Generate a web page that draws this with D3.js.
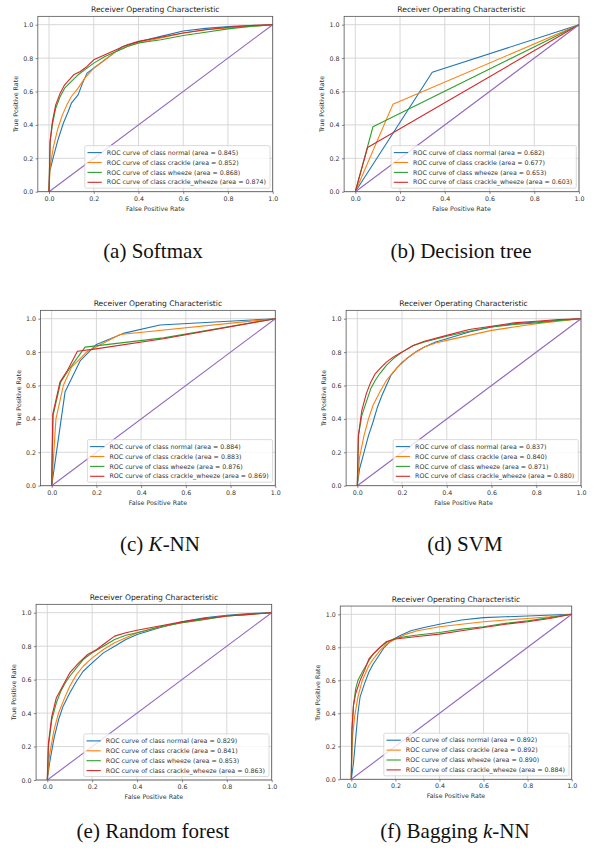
<!DOCTYPE html>
<html>
<head>
<meta charset="utf-8">
<script src="https://cdn.jsdelivr.net/npm/d3@7"></script>
<style>
  body { margin: 0; background: #fff; }
  svg { display: block; }
</style>
</head>
<body>
<div id="fig"></div>
<script>
// ROC curves for six classifiers
const classNames = ["normal", "crackle", "wheeze", "crackle_wheeze"];
const axisTicks = [0, 0.2, 0.4, 0.6, 0.8, 1.0];

// each curve is a list of [fpr, tpr]
const softmaxCurves = [
  [[0,0],[0.003,0.12],[0.02,0.21],[0.04,0.31],[0.064,0.41],[0.086,0.48],[0.1,0.53],[0.13,0.58],[0.15,0.65],[0.17,0.71],[0.21,0.75],[0.26,0.8],[0.33,0.87],[0.41,0.9],[0.5,0.93],[0.6,0.962],[0.7,0.978],[0.82,0.99],[1,1]],
  [[0,0],[0.005,0.15],[0.02,0.27],[0.04,0.38],[0.06,0.46],[0.08,0.52],[0.1,0.57],[0.13,0.62],[0.16,0.68],[0.2,0.74],[0.25,0.79],[0.3,0.84],[0.35,0.87],[0.4,0.89],[0.5,0.92],[0.6,0.95],[0.7,0.97],[0.8,0.98],[0.9,0.99],[1,1]],
  [[0,0],[0.005,0.3],[0.015,0.4],[0.03,0.5],[0.05,0.57],[0.07,0.62],[0.1,0.66],[0.13,0.7],[0.17,0.74],[0.2,0.77],[0.25,0.81],[0.3,0.84],[0.35,0.87],[0.4,0.89],[0.5,0.91],[0.6,0.935],[0.7,0.955],[0.8,0.975],[0.9,0.99],[1,1]],
  [[0,0],[0.005,0.3],[0.015,0.42],[0.03,0.52],[0.05,0.59],[0.07,0.64],[0.09,0.67],[0.11,0.7],[0.14,0.72],[0.17,0.75],[0.2,0.79],[0.25,0.82],[0.3,0.85],[0.35,0.88],[0.4,0.9],[0.5,0.925],[0.6,0.95],[0.7,0.97],[0.8,0.985],[0.9,0.995],[1,1]]
];
const softmaxAuc = [0.845, 0.852, 0.868, 0.874];

const treeCurves = [
  [[0,0],[0.344,0.715],[1,1]],
  [[0,0],[0.168,0.523],[1,1]],
  [[0,0],[0.079,0.389],[1,1]],
  [[0,0],[0.055,0.265],[1,1]]
];
const treeAuc = [0.682, 0.677, 0.653, 0.603];

const knnCurves = [
  [[0,0],[0.06,0.563],[0.127,0.747],[0.2,0.846],[0.32,0.912],[0.484,0.962],[1,1]],
  [[0,0],[0.019,0.4],[0.052,0.6],[0.089,0.71],[0.156,0.8],[0.305,0.905],[1,1]],
  [[0,0],[0.006,0.42],[0.04,0.62],[0.074,0.69],[0.149,0.83],[0.5,0.885],[1,1]],
  [[0,0],[0.005,0.43],[0.037,0.62],[0.07,0.69],[0.115,0.805],[0.19,0.818],[0.5,0.88],[1,1]]
];
const knnAuc = [0.884, 0.883, 0.876, 0.869];

const svmCurves = [
  [[0,0],[0.01,0.1],[0.03,0.2],[0.05,0.3],[0.07,0.38],[0.09,0.47],[0.11,0.54],[0.13,0.6],[0.15,0.66],[0.18,0.71],[0.22,0.76],[0.26,0.8],[0.3,0.83],[0.35,0.86],[0.4,0.88],[0.5,0.92],[0.6,0.95],[0.7,0.97],[0.8,0.98],[0.9,0.99],[1,1]],
  [[0,0],[0.01,0.17],[0.03,0.3],[0.05,0.4],[0.07,0.48],[0.1,0.56],[0.13,0.63],[0.16,0.68],[0.2,0.74],[0.25,0.79],[0.3,0.83],[0.35,0.855],[0.4,0.87],[0.5,0.9],[0.6,0.93],[0.7,0.95],[0.8,0.97],[0.9,0.985],[1,1]],
  [[0,0],[0.005,0.3],[0.02,0.42],[0.04,0.5],[0.06,0.58],[0.08,0.63],[0.1,0.67],[0.13,0.72],[0.16,0.76],[0.2,0.8],[0.25,0.84],[0.3,0.86],[0.4,0.895],[0.5,0.925],[0.6,0.95],[0.7,0.965],[0.8,0.975],[0.9,0.99],[1,1]],
  [[0,0],[0.005,0.3],[0.02,0.45],[0.04,0.55],[0.06,0.62],[0.08,0.67],[0.1,0.7],[0.13,0.74],[0.16,0.77],[0.2,0.8],[0.25,0.84],[0.3,0.865],[0.4,0.9],[0.5,0.935],[0.6,0.955],[0.7,0.975],[0.8,0.985],[0.9,0.995],[1,1]]
];
const svmAuc = [0.837, 0.840, 0.871, 0.880];

const forestCurves = [
  [[0,0],[0.01,0.1],[0.03,0.25],[0.05,0.36],[0.07,0.44],[0.1,0.52],[0.13,0.59],[0.16,0.65],[0.2,0.7],[0.25,0.76],[0.3,0.8],[0.35,0.84],[0.4,0.87],[0.5,0.91],[0.6,0.945],[0.7,0.97],[0.8,0.985],[0.9,0.995],[1,1]],
  [[0,0],[0.01,0.15],[0.03,0.3],[0.05,0.4],[0.08,0.5],[0.1,0.56],[0.13,0.63],[0.16,0.68],[0.2,0.73],[0.25,0.78],[0.3,0.82],[0.35,0.85],[0.4,0.88],[0.5,0.915],[0.6,0.94],[0.7,0.96],[0.8,0.98],[0.9,0.99],[1,1]],
  [[0,0],[0.005,0.2],[0.02,0.36],[0.04,0.46],[0.06,0.53],[0.08,0.58],[0.1,0.62],[0.13,0.67],[0.16,0.72],[0.2,0.76],[0.25,0.8],[0.3,0.84],[0.35,0.865],[0.4,0.88],[0.5,0.915],[0.6,0.94],[0.7,0.96],[0.8,0.98],[0.9,0.99],[1,1]],
  [[0,0],[0.005,0.22],[0.02,0.38],[0.04,0.49],[0.06,0.54],[0.08,0.59],[0.1,0.64],[0.14,0.7],[0.18,0.75],[0.22,0.78],[0.26,0.82],[0.3,0.86],[0.35,0.88],[0.4,0.895],[0.5,0.92],[0.6,0.945],[0.7,0.965],[0.8,0.98],[0.9,0.99],[1,1]]
];
const forestAuc = [0.829, 0.841, 0.853, 0.863];

const baggingCurves = [
  [[0,0],[0.01,0.1],[0.02,0.25],[0.03,0.4],[0.04,0.5],[0.06,0.58],[0.08,0.65],[0.1,0.7],[0.12,0.74],[0.15,0.8],[0.18,0.84],[0.22,0.87],[0.27,0.9],[0.33,0.92],[0.4,0.94],[0.5,0.965],[0.6,0.98],[0.7,0.985],[0.8,0.99],[1,1]],
  [[0,0],[0.005,0.25],[0.015,0.38],[0.03,0.5],[0.05,0.6],[0.08,0.69],[0.1,0.73],[0.13,0.78],[0.16,0.82],[0.2,0.85],[0.25,0.88],[0.3,0.9],[0.4,0.925],[0.5,0.94],[0.6,0.955],[0.7,0.965],[0.8,0.975],[0.9,0.985],[1,1]],
  [[0,0],[0.003,0.3],[0.01,0.45],[0.02,0.55],[0.03,0.6],[0.05,0.65],[0.08,0.72],[0.1,0.76],[0.13,0.8],[0.16,0.83],[0.2,0.855],[0.25,0.865],[0.3,0.875],[0.4,0.89],[0.5,0.91],[0.6,0.925],[0.7,0.945],[0.8,0.96],[0.9,0.98],[1,1]],
  [[0,0],[0.003,0.3],[0.01,0.45],[0.02,0.52],[0.04,0.6],[0.06,0.66],[0.08,0.73],[0.1,0.76],[0.13,0.8],[0.16,0.835],[0.2,0.85],[0.3,0.865],[0.4,0.88],[0.5,0.9],[0.6,0.92],[0.7,0.94],[0.8,0.955],[0.9,0.975],[1,1]]
];
const baggingAuc = [0.892, 0.892, 0.890, 0.884];

// matplotlib default colour cycle, purple is the chance line
const lineColours = ["#1f77b4", "#ff7f0e", "#2ca02c", "#d62728"];
const chanceColour = "#9467bd";

const width = 596, height = 852;
const tickFont = 6.3;

const svg = d3.select("#fig").append("svg")
  .attr("width", width)
  .attr("height", height);

// pixel spots of each sub figure (where x=0..1 and y=0..1 land)
const panels = [
  { curves: softmaxCurves, auc: softmaxAuc, xr: [49, 272.7], yr: [191.7, 24.7], cap: ["(a) ", "Softmax"], capItalic: [], capPos: [153, 258] },
  { curves: treeCurves, auc: treeAuc, xr: [355.3, 579], yr: [191.7, 24.7], cap: ["(b) ", "Decision tree"], capItalic: [], capPos: [461, 258] },
  { curves: knnCurves, auc: knnAuc, xr: [51.7, 275.3], yr: [485.7, 318.7], cap: ["(c) ", "K", "-NN"], capItalic: [1], capPos: [160, 551] },
  { curves: svmCurves, auc: svmAuc, xr: [357.3, 581], yr: [485.7, 318.7], cap: ["(d) ", "SVM"], capItalic: [], capPos: [465, 551] },
  { curves: forestCurves, auc: forestAuc, xr: [47.3, 271.7], yr: [780, 612.7], cap: ["(e) ", "Random forest"], capItalic: [], capPos: [153, 838] },
  { curves: baggingCurves, auc: baggingAuc, xr: [351.3, 571.7], yr: [779.3, 614.3], cap: ["(f) Bagging ", "k", "-NN"], capItalic: [1], capPos: [455, 838] }
];

function drawPanel(p) {
  const x = d3.scaleLinear().domain([0, 1]).range(p.xr);
  const y = d3.scaleLinear().domain([0, 1]).range(p.yr);
  const left = x(-0.05), right = x(1), top = y(1.05), bottom = y(0);
  const g = svg.append("g").attr("class", "panel");

  // grid
  g.append("g").selectAll("line.vgrid")
    .data(axisTicks).enter().append("line")
    .attr("x1", d => x(d)).attr("x2", d => x(d))
    .attr("y1", top).attr("y2", bottom)
    .attr("stroke", "#d4d4d4").attr("stroke-width", 0.9);
  g.append("g").selectAll("line.hgrid")
    .data(axisTicks).enter().append("line")
    .attr("x1", left).attr("x2", right)
    .attr("y1", d => y(d)).attr("y2", d => y(d))
    .attr("stroke", "#d4d4d4").attr("stroke-width", 0.9);

  // axes
  const xAxis = g.append("g")
    .attr("transform", `translate(0,${bottom})`)
    .call(d3.axisBottom(x).tickValues(axisTicks).tickFormat(d3.format(".1f")).tickSize(2.2).tickPadding(2.3));
  const yAxis = g.append("g")
    .attr("transform", `translate(${left},0)`)
    .call(d3.axisLeft(y).tickValues(axisTicks).tickFormat(d3.format(".1f")).tickSize(2.2).tickPadding(2.3));
  [xAxis, yAxis].forEach(a => {
    a.select(".domain").remove();
    a.selectAll("line").attr("stroke", "#555").attr("stroke-width", 0.7);
    a.selectAll("text")
      .attr("font-family", "DejaVu Sans")
      .attr("font-size", tickFont)
      .attr("fill", "#333");
  });

  // curves
  const line = d3.line().x(d => x(d[0])).y(d => y(d[1]));
  g.append("g").selectAll("path")
    .data(p.curves).enter().append("path")
    .attr("d", line)
    .attr("fill", "none")
    .attr("stroke", (d, i) => lineColours[i])
    .attr("stroke-width", 1.1)
    .attr("stroke-linejoin", "round");

  g.append("path")
    .attr("d", line([[0, 0], [1, 1]]))
    .attr("fill", "none")
    .attr("stroke", chanceColour)
    .attr("stroke-width", 1.1);

  // frame
  g.append("rect")
    .attr("x", left).attr("y", top)
    .attr("width", right - left).attr("height", bottom - top)
    .attr("fill", "none")
    .attr("stroke", "#555")
    .attr("stroke-width", 0.8);

  // titles
  const midX = (left + right) / 2;
  g.append("text")
    .attr("x", midX).attr("y", top - 4.2)
    .attr("text-anchor", "middle")
    .attr("font-family", "DejaVu Sans")
    .attr("font-size", 7.6)
    .attr("fill", "#222")
    .text("Receiver Operating Characteristic");
  g.append("text")
    .attr("x", midX).attr("y", bottom + 19)
    .attr("text-anchor", "middle")
    .attr("font-family", "DejaVu Sans")
    .attr("font-size", tickFont)
    .attr("fill", "#333")
    .text("False Positive Rate");
  g.append("text")
    .attr("transform", `translate(${left - 20},${(top + bottom) / 2}) rotate(-90)`)
    .attr("text-anchor", "middle")
    .attr("font-family", "DejaVu Sans")
    .attr("font-size", tickFont)
    .attr("fill", "#333")
    .text("True Positive Rate");

  // legend, lower right
  const leg = g.append("g");
  const box = leg.append("rect");
  const rows = leg.selectAll("g.row")
    .data(classNames).enter().append("g")
    .attr("class", "row");
  const labels = rows.append("text")
    .attr("x", 22)
    .attr("y", (d, i) => 7 + i * 9.9)
    .attr("dy", "0.35em")
    .attr("font-family", "DejaVu Sans")
    .attr("font-size", tickFont)
    .attr("fill", "#333")
    .text((d, i) => `ROC curve of class ${d} (area = ${p.auc[i].toFixed(3)})`);
  rows.append("line")
    .attr("x1", 2.7).attr("x2", 17)
    .attr("y1", (d, i) => 7 + i * 9.9)
    .attr("y2", (d, i) => 7 + i * 9.9)
    .attr("stroke", (d, i) => lineColours[i])
    .attr("stroke-width", 1.1);
  let maxLen = 0;
  labels.each(function () { maxLen = Math.max(maxLen, this.getComputedTextLength()); });
  const boxW = 22 + maxLen + 4, boxH = 42.6;
  box.attr("width", boxW).attr("height", boxH)
    .attr("rx", 1.5)
    .attr("fill", "#fff").attr("fill-opacity", 0.8)
    .attr("stroke", "#ccc").attr("stroke-width", 0.7);
  leg.attr("transform", `translate(${right - 2.7 - boxW},${bottom - 3.5 - boxH})`);

  // caption under the sub figure
  const cap = svg.append("text")
    .attr("x", p.capPos[0]).attr("y", p.capPos[1])
    .attr("text-anchor", "middle")
    .attr("font-family", "Liberation Serif, Times New Roman, serif")
    .attr("font-size", 21)
    .attr("fill", "#111");
  p.cap.forEach((s, i) => {
    cap.append("tspan")
      .attr("font-style", p.capItalic.includes(i) ? "italic" : "normal")
      .text(s);
  });
}

panels.forEach(drawPanel);
</script>
</body>
</html>
